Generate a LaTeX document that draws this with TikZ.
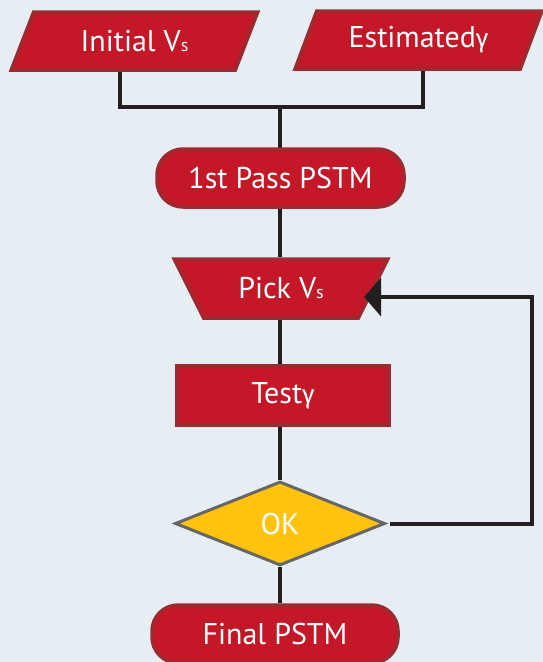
\documentclass[tikz,border=0pt]{standalone}
\usepackage{fontspec}
\setmainfont{PT Sans}
\newfontfamily\grk{Fira Sans}
\usetikzlibrary{shapes.geometric,arrows.meta,backgrounds}
\definecolor{bg}{HTML}{E6EEF4}
\definecolor{boxred}{HTML}{C41828}
\definecolor{boxedge}{HTML}{9C2A30}
\definecolor{okfill}{HTML}{FFC20E}
\definecolor{okedge}{HTML}{666666}
\definecolor{linecol}{HTML}{231F20}
\newcommand{\subs}{{\fontsize{18}{18}\selectfont s}}
\newcommand{\gam}{{\grk\fontsize{26}{26}\selectfont γ}}
\tikzset{
  box/.style={fill=boxred, draw=boxedge, line width=3.5pt, text=white,
    font=\fontsize{30}{34}\selectfont, inner sep=0pt},
  para/.style={box, trapezium, trapezium left angle=61, trapezium right angle=119,
    trapezium stretches=true, minimum width=247pt, minimum height=58pt},
  term/.style={box, rectangle, rounded corners=26pt, minimum width=247pt, minimum height=58pt},
  pickbox/.style={box, trapezium, trapezium left angle=53, trapezium right angle=53,
    shape border rotate=180, trapezium stretches=true, minimum width=214pt, minimum height=59pt},
  procbox/.style={box, rectangle, minimum width=212pt, minimum height=59pt},
  decision/.style={diamond, fill=okfill, draw=okedge, line width=3pt, text=white,
    font=\fontsize{30}{34}\selectfont, inner sep=0pt, minimum width=210pt, minimum height=84pt},
  conn/.style={draw=linecol, line width=4pt}
}
\begin{document}
\begin{tikzpicture}[x=1pt,y=-1pt]
\useasboundingbox (0,0) rectangle (543,662);
\node[para] (init) at (134.5,41) {Initial V\subs};
\node[para] (est) at (418.5,40) {Estimated\gam};
\node[term] (pass) at (280.5,178) {1st Pass PSTM};
\node[pickbox] (pick) at (281,288.5) {Pick V\subs};
\node[procbox] (test) at (283,395.5) {Test\gam};
\node[decision] (ok) at (280,523.5) {OK};
\node[term, minimum width=246pt] (final) at (275,634) {Final PSTM};
\coordinate (j) at (280,107);
\coordinate (jl) at (120,107);
\coordinate (jr) at (423,107);
\coordinate (r1) at (532,523.5);
\coordinate (r2) at (532,297);
\begin{scope}[on background layer]
\fill[bg] (0,0) rectangle (543,662);
\draw[conn] (init.south -| jl) -- (jl) -- (jr) -- (est.south -| jr);
\draw[conn] (j) -- (pass.center -| j);
\draw[conn] (pass.south -| j) -- (pick.north -| j);
\draw[conn] (pick.south -| j) -- (test.north -| j);
\draw[conn] (test.south -| j) -- (ok.north);
\draw[conn] (ok.south) -- (final.north -| j);
\end{scope}
\draw[conn, -{Triangle[length=17pt,width=38pt]}] ([xshift=3.5pt]ok.east) -- (r1) -- (r2) -- ([xshift=-11pt]pick.east |- r2);
\end{tikzpicture}
\end{document}
